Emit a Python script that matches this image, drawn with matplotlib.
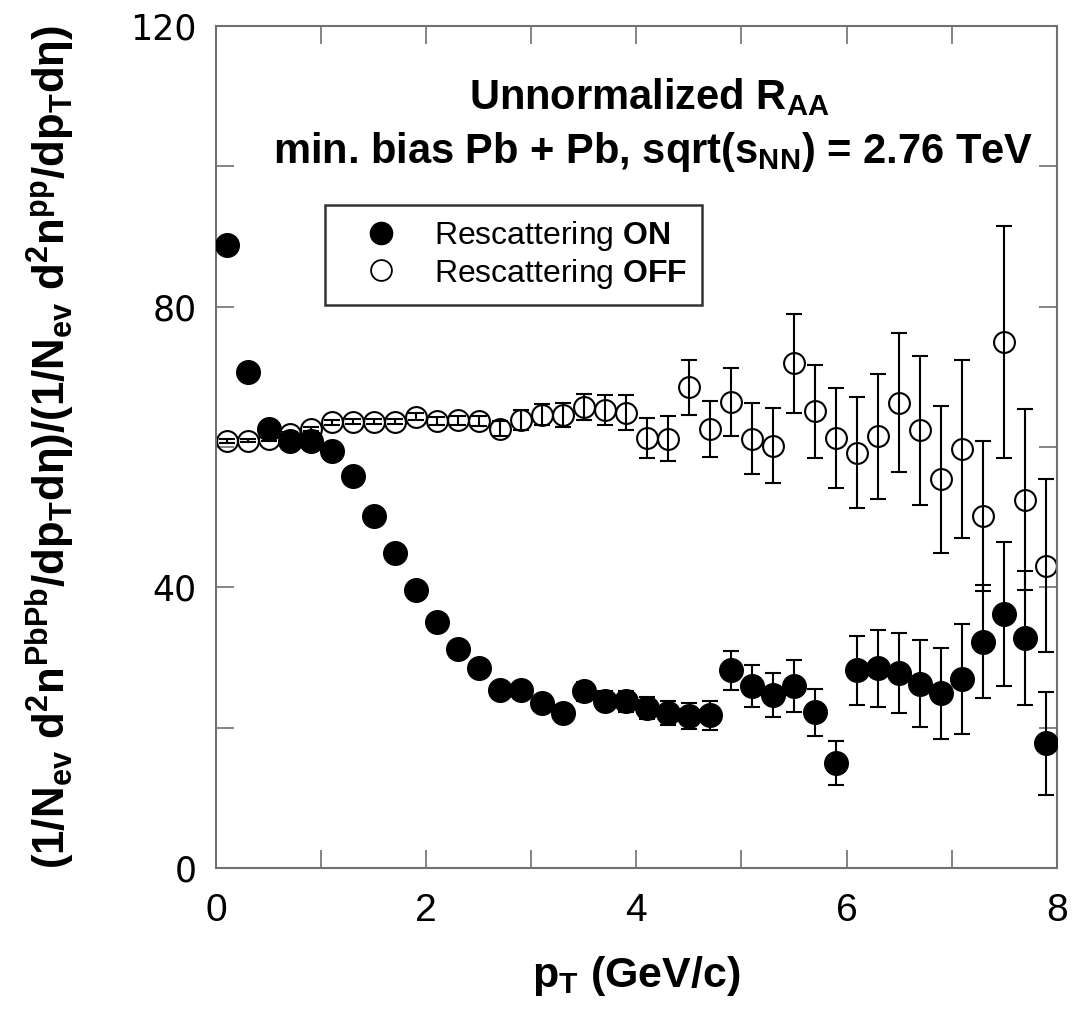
import numpy as np
import matplotlib
matplotlib.use('Agg')
import matplotlib.pyplot as plt
from matplotlib.ticker import MultipleLocator
from matplotlib.lines import Line2D

plt.rcParams['font.family'] = ['Liberation Sans', 'DejaVu Sans']
plt.rcParams['mathtext.fontset'] = 'custom'
plt.rcParams['mathtext.rm'] = 'Liberation Sans:bold'
plt.rcParams['mathtext.it'] = 'Liberation Sans:bold'
plt.rcParams['mathtext.bf'] = 'Liberation Sans:bold'

# pT bin centres
pt = [0.1, 0.3, 0.5, 0.7, 0.9, 1.1, 1.3, 1.5, 1.7, 1.9,
      2.1, 2.3, 2.5, 2.7, 2.9, 3.1, 3.3, 3.5, 3.7, 3.9,
      4.1, 4.3, 4.5, 4.7, 4.9, 5.1, 5.3, 5.5, 5.7, 5.9,
      6.1, 6.3, 6.5, 6.7, 6.9, 7.1, 7.3, 7.5, 7.7, 7.9]

# rescattering ON
raa_on = [88.8, 70.7, 62.6, 60.9, 60.9, 59.4, 55.9, 50.2, 44.9, 39.7,
          35.1, 31.3, 28.5, 25.4, 25.4, 23.5, 22.1, 25.2, 23.9, 23.8,
          22.8, 22.1, 21.7, 21.8, 28.2, 26.0, 24.7, 26.0, 22.2, 15.0,
          28.2, 28.5, 27.8, 26.3, 24.9, 27.0, 32.3, 36.2, 32.8, 17.8]
err_on = [0.3, 0.3, 0.3, 0.3, 0.3, 0.4, 0.4, 0.5, 0.5, 0.6,
          0.6, 0.7, 0.8, 0.9, 1.0, 1.1, 1.2, 1.3, 1.4, 1.5,
          1.6, 1.7, 1.9, 2.1, 2.8, 3.0, 3.1, 3.7, 3.4, 3.1,
          4.9, 5.5, 5.7, 6.2, 6.5, 7.8, 8.1, 10.3, 9.6, 7.3]

# rescattering OFF
raa_off = [60.9, 60.9, 61.1, 61.9, 62.6, 63.5, 63.6, 63.6, 63.6, 64.3,
           63.7, 63.8, 63.7, 62.6, 63.8, 64.6, 64.5, 65.7, 65.3, 64.9,
           61.3, 61.2, 68.5, 62.6, 66.4, 61.2, 60.2, 71.9, 65.1, 61.3,
           59.2, 61.5, 66.3, 62.4, 55.4, 59.7, 50.2, 75.0, 52.5, 43.1]
err_off = [0.3, 0.2, 0.3, 0.3, 0.3, 0.35, 0.38, 0.38, 0.38, 0.48,
           0.5, 0.6, 0.7, 1.05, 1.4, 1.5, 1.7, 1.9, 2.1, 2.5,
           2.8, 3.2, 3.9, 4.0, 4.8, 5.0, 5.3, 7.0, 6.6, 7.1,
           7.9, 8.9, 9.9, 10.6, 10.5, 12.7, 10.7, 16.5, 12.9, 12.3]

fig = plt.figure(figsize=(10.75, 10.24), dpi=100)
ax = fig.add_axes([0.201, 0.152, 0.782, 0.823])

ax.errorbar(pt, raa_off, yerr=err_off, fmt='o', ms=15, mfc='none', mec='black',
            mew=1.5, ecolor='black', elinewidth=1.5, capsize=6, capthick=1.5, zorder=2)
ax.errorbar(pt, raa_on, yerr=err_on, fmt='o', ms=17, mfc='black', mec='black',
            ecolor='black', elinewidth=1.5, capsize=6, capthick=1.5, zorder=3)

ax.set_xlim(0, 8)
ax.set_ylim(0, 120)
ax.xaxis.set_major_locator(MultipleLocator(2))
ax.xaxis.set_minor_locator(MultipleLocator(1))
ax.yaxis.set_major_locator(MultipleLocator(40))
ax.yaxis.set_minor_locator(MultipleLocator(20))
ax.tick_params(which='both', direction='in', top=True, right=True,
               length=13, width=1.2, color='#707070')
ax.tick_params(axis='x', labelsize=28, pad=18)
ax.tick_params(axis='y', labelsize=25, pad=14)
for lab in ax.get_yticklabels():
    lab.set_family('DejaVu Sans')
for sp in ax.spines.values():
    sp.set_color('#707070')
    sp.set_linewidth(1.5)

ax.set_xlabel('p$_{\\mathrm{T}}$ (GeV/c)', fontsize=31, fontweight='bold', labelpad=18)
ax.set_ylabel('(1/N$_{\\mathrm{ev}}$ d$^{\\mathrm{2}}$n$^{\\mathrm{PbPb}}$/dp$_{\\mathrm{T}}$dη)'
              '/(1/N$_{\\mathrm{ev}}$ d$^{\\mathrm{2}}$n$^{\\mathrm{pp}}$/dp$_{\\mathrm{T}}$dη)',
              fontsize=31.5, fontweight='bold')
ax.yaxis.set_label_coords(-0.165, 0.5)

ax.text(0.515, 0.915, 'Unnormalized R$_{\\mathrm{AA}}$', transform=ax.transAxes,
        ha='center', va='center', fontsize=30, fontweight='bold')
ax.text(0.52, 0.85, 'min. bias Pb + Pb, sqrt(s$_{\\mathrm{NN}}$) = 2.76 TeV',
        transform=ax.transAxes, ha='center', va='center', fontsize=30, fontweight='bold')

handles = [Line2D([], [], ls='none', marker='o', ms=16, mfc='black', mec='black'),
           Line2D([], [], ls='none', marker='o', ms=15, mfc='none', mec='black', mew=1.3)]
labels = ['Rescattering $\\mathbf{ON}$', 'Rescattering $\\mathbf{OFF}$']
leg = ax.legend(handles, labels, loc='upper left', bbox_to_anchor=(0.13, 0.787),
                fontsize=23, frameon=True, fancybox=False, edgecolor='black',
                borderpad=0.45, handlelength=2.6, handletextpad=0.35, labelspacing=0.1,
                borderaxespad=0)
leg.get_frame().set_linewidth(1.8)

fig.savefig('out.png', dpi=100)
